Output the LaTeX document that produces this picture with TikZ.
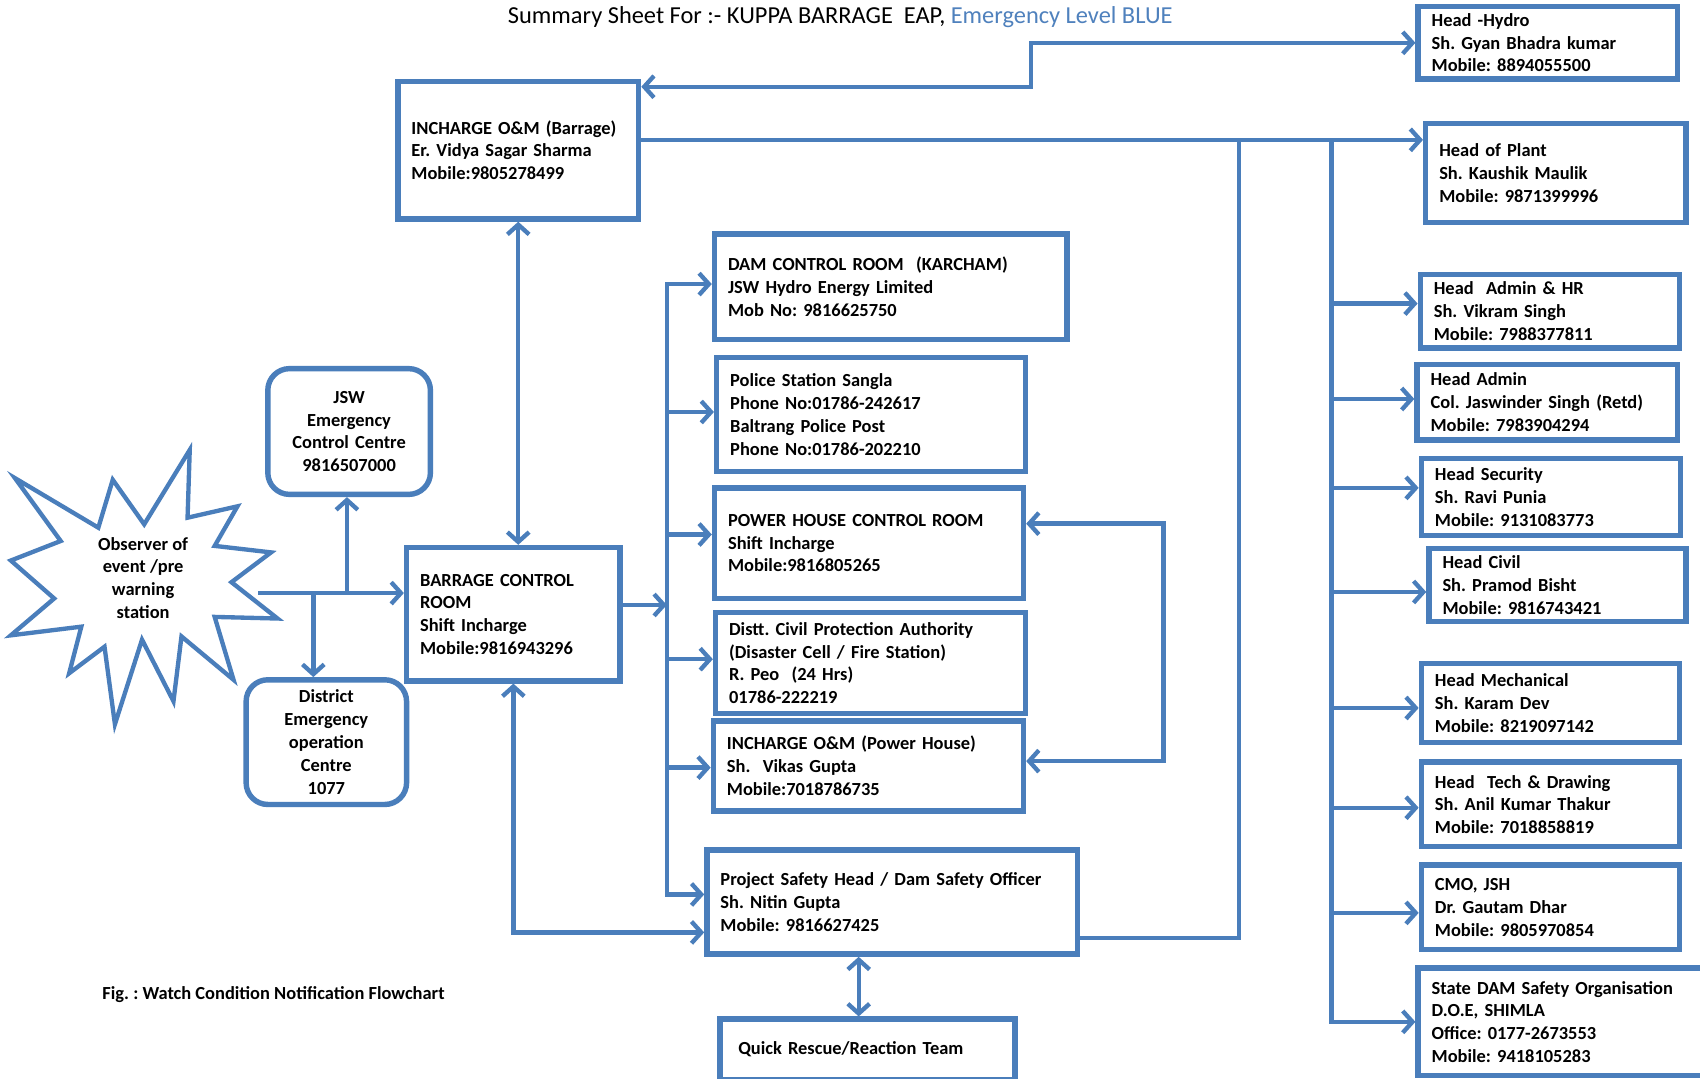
\documentclass[tikz,border=0pt]{standalone}
\usepackage{fontspec}
\setmainfont{Carlito}
\usetikzlibrary{arrows.meta}
\frenchspacing

\definecolor{lineblue}{RGB}{74,126,187}
\definecolor{titleblue}{RGB}{79,129,189}

\begin{document}
\begin{tikzpicture}[x=1pt,y=-1pt,
  every node/.style={font=\fontsize{17}{21}\selectfont\bfseries},
  box/.style={draw=lineblue, line width=5pt, fill=white, inner xsep=12.5pt, inner ysep=0pt, align=left},
  rbox/.style={box, rounded corners=20pt, align=center},
  link/.style={draw=lineblue, line width=4pt},
  arr/.style={link, -{Straight Barb[length=9pt,width=20pt]}},
  darr/.style={link, {Straight Barb[length=9pt,width=20pt]}-{Straight Barb[length=9pt,width=20pt]}},
]
\useasboundingbox (0,0) rectangle (1568,995);
\fill[white] (0,0) rectangle (1568,995);
\clip (0,0) rectangle (1568,995);

% heading and caption
\node[anchor=west, font=\fontsize{22.5}{27}\selectfont] (title) at (465,16)
  {Summary Sheet For :- KUPPA BARRAGE\ \ EAP, \textcolor{titleblue}{Emergency Level BLUE}};
\node[anchor=west] (cap) at (91,917) {Fig. : Watch Condition Notification Flowchart};

% observer burst
\draw[lineblue, line width=4pt, fill=white]
  (13.8,441) -- (90.7,486.7) -- (104,442.5) -- (133,483.6) -- (175,415) -- (173,477.5)
  -- (219,467) -- (198,503.5) -- (250,509.5) -- (213.5,537) -- (256,570.5) -- (198,569)
  -- (215.4,627) -- (167.4,587) -- (160,646.8) -- (131,590) -- (106,668) -- (96.4,596.5)
  -- (63.8,621) -- (75,578) -- (10,586) -- (50,552) -- (10,517) -- (56,499) -- cycle;
\node[align=center] (obs) at (132,533) {Observer of\\event /pre\\warning\\station};

% left column
\node[rbox, minimum width=150pt, minimum height=116pt, text width=125pt] (jsw) at (322,398)
  {JSW\\Emergency\\Control Centre\\9816507000};
\node[rbox, minimum width=148pt, minimum height=115pt, text width=123pt] (deoc) at (301,684.5)
  {District\\Emergency\\operation\\Centre\\1077};
\node[box, minimum width=222pt, minimum height=127pt, text width=197pt] (incB) at (478,138.5)
  {INCHARGE O\&M (Barrage)\\Er. Vidya Sagar Sharma\\Mobile:9805278499};
\node[box, minimum width=197pt, minimum height=123pt, text width=172pt] (bcr) at (473.5,566.5)
  {BARRAGE CONTROL\\ROOM\\Shift Incharge\\Mobile:9816943296};

% middle column
\node[box, minimum width=325pt, minimum height=97pt, text width=300pt] (dam) at (821.5,264.5)
  {DAM CONTROL ROOM\ \ (KARCHAM)\\JSW Hydro Energy Limited\\Mob No: 9816625750};
\node[box, minimum width=285pt, minimum height=105pt, text width=260pt] (police) at (803.5,382.5)
  {Police Station Sangla\\Phone No:01786-242617\\Baltrang Police Post\\Phone No:01786-202210};
\node[box, minimum width=285pt, minimum height=102pt, text width=260pt] (phcr) at (801.5,501)
  {POWER HOUSE CONTROL ROOM\\Shift Incharge\\Mobile:9816805265};
\node[box, minimum width=286pt, minimum height=93pt, text width=261pt] (dcpa) at (803,611.5)
  {Distt. Civil Protection Authority\\(Disaster Cell / Fire Station)\\R. Peo\ \ (24 Hrs)\\01786-222219};
\node[box, minimum width=286pt, minimum height=83pt, text width=261pt] (incPH) at (801,706.5)
  {INCHARGE O\&M (Power House)\\Sh.\ \ Vikas Gupta\\Mobile:7018786735};
\node[box, minimum width=342pt, minimum height=96pt, text width=317pt] (safety) at (823,832)
  {Project Safety Head / Dam Safety Officer\\Sh. Nitin Gupta\\Mobile: 9816627425};
\node[box, inner xsep=17pt, minimum width=272pt, minimum height=56pt, text width=238pt] (qrt) at (800,968)
  {Quick Rescue/Reaction Team};

% right column
\node[box, minimum width=239pt, minimum height=67pt, text width=214pt] (hydro) at (1427.5,39.5)
  {Head -Hydro\\Sh. Gyan Bhadra kumar\\Mobile: 8894055500};
\node[box, minimum width=240pt, minimum height=91pt, text width=215pt] (plant) at (1435,159.5)
  {Head of Plant\\Sh. Kaushik Maulik\\Mobile: 9871399996};
\node[box, minimum width=239pt, minimum height=68pt, text width=214pt] (adminhr) at (1429.5,287)
  {Head\ \ Admin \& HR\\Sh. Vikram Singh\\Mobile: 7988377811};
\node[box, minimum width=240pt, minimum height=70pt, text width=215pt] (admin) at (1427,371)
  {Head Admin\\Col. Jaswinder Singh (Retd)\\Mobile: 7983904294};
\node[box, minimum width=239pt, minimum height=71pt, text width=214pt] (security) at (1430.5,458.5)
  {Head Security\\Sh. Ravi Punia\\Mobile: 9131083773};
\node[box, minimum width=237pt, minimum height=67pt, text width=212pt] (civil) at (1436.5,539.5)
  {Head Civil\\Sh. Pramod Bisht\\Mobile: 9816743421};
\node[box, minimum width=238pt, minimum height=73pt, text width=213pt] (mech) at (1430,648.5)
  {Head Mechanical\\Sh. Karam Dev\\Mobile: 8219097142};
\node[box, minimum width=238pt, minimum height=78pt, text width=213pt] (tech) at (1430,742)
  {Head\ \ Tech \& Drawing\\Sh. Anil Kumar Thakur\\Mobile: 7018858819};
\node[box, minimum width=238pt, minimum height=78pt, text width=213pt] (cmo) at (1430,837)
  {CMO, JSH\\Dr. Gautam Dhar\\Mobile: 9805970854};
\node[box, minimum width=272pt, minimum height=99pt, text width=247pt] (state) at (1444,942.5)
  {State DAM Safety Organisation\\D.O.E, SHIMLA\\Office: 0177-2673553\\Mobile: 9418105283};

% routing points
\coordinate (obsR) at (238,547);
\coordinate (jB) at (320,547);
\coordinate (dB) at (289,547);
\coordinate (busTop) at (615,262);
\coordinate (busBot) at (615,825);
\coordinate (busIn) at (615,558);
\coordinate (rowPlant) at (0,129);
\coordinate (t1) at (1143,0);
\coordinate (t2) at (1228,0);
\coordinate (loopX) at (1073,0);
\coordinate (hyX) at (951,0);
\coordinate (qX) at (792,0);

% observer fan-out
\draw[arr] (obsR) -- (bcr.west |- obsR);
\draw[arr] (jB) -- (jB |- jsw.south);
\draw[arr] (dB) -- (dB |- deoc.north);

% barrage control room links
\draw[darr] (incB.south) -- (incB.south |- bcr.north);
\draw[darr] (bcr.south) -- (bcr.south |- 0,860) -- (safety.west |- 0,860);
\draw[arr] (bcr.east |- busIn) -- (busIn);

% distribution bus to the middle column
\draw[darr] (dam.west |- busTop) -- (busTop) -- (busBot) -- (safety.west |- busBot);
\draw[arr] (busTop |- 0,380) -- (police.west |- 0,380);
\draw[arr] (busTop |- 0,493) -- (phcr.west |- 0,493);
\draw[arr] (busTop |- 0,608) -- (dcpa.west |- 0,608);
\draw[arr] (busTop |- 0,708) -- (incPH.west |- 0,708);

% power house loop
\draw[darr] (phcr.east |- 0,483) -- (loopX |- 0,483) -- (loopX |- 0,702) -- (incPH.east |- 0,702);

% quick rescue team
\draw[darr] (qX |- safety.south) -- (qX |- qrt.north);

% upper links to management
\draw[darr] (incB.east |- 0,80) -- (hyX |- 0,80) -- (hyX |- hydro.west) -- (hydro.west);
\draw[arr] (incB.east |- rowPlant) -- (plant.west |- rowPlant);
\draw[link] (safety.east |- 0,865) -- (t1 |- 0,865) -- (t1 |- rowPlant);

% right trunk to department heads
\draw[arr] (t2 |- rowPlant) -- (t2 |- state.west) -- (state.west);
\draw[arr] (t2 |- 0,280) -- (adminhr.west |- 0,280);
\draw[arr] (t2 |- 0,368) -- (admin.west |- 0,368);
\draw[arr] (t2 |- 0,450) -- (security.west |- 0,450);
\draw[arr] (t2 |- 0,546) -- (civil.west |- 0,546);
\draw[arr] (t2 |- 0,653) -- (mech.west |- 0,653);
\draw[arr] (t2 |- 0,745) -- (tech.west |- 0,745);
\draw[arr] (t2 |- 0,842) -- (cmo.west |- 0,842);
\end{tikzpicture}
\end{document}
